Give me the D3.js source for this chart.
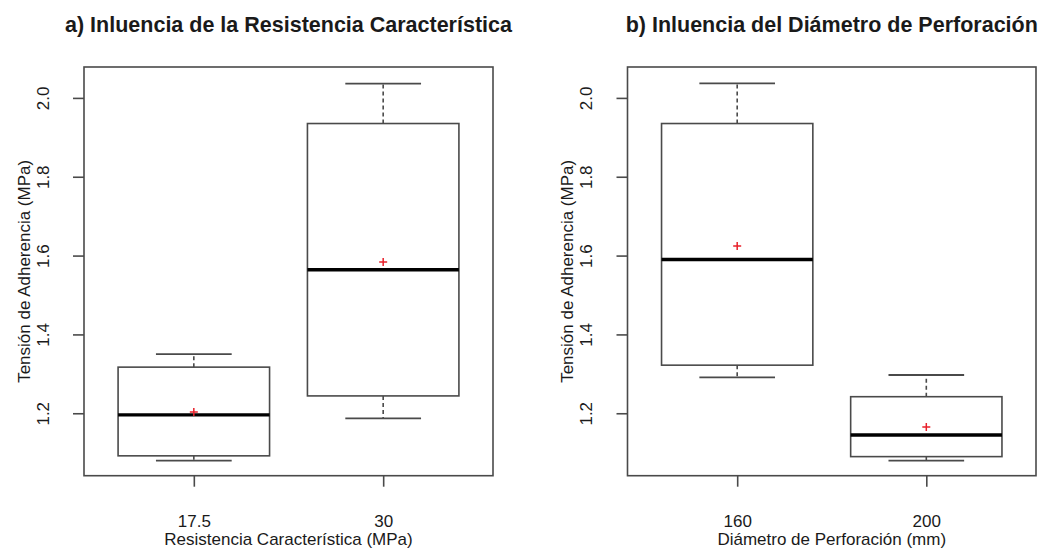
<!DOCTYPE html>
<html>
<head>
<meta charset="utf-8">
<script src="https://cdn.jsdelivr.net/npm/d3@7"></script>
<style>
  html, body { margin: 0; padding: 0; background: #fff; }
  svg { display: block; font-family: "Liberation Sans", Arial, sans-serif; }
</style>
</head>
<body>
<svg id="chart" width="1041" height="550"></svg>
<script>
// Bond stress box plots: five-number summaries and means per group
const yTitle = "Tensión de Adherencia (MPa)";
const yTicks = [1.2, 1.4, 1.6, 1.8, 2.0];

const titleA = "a) Inluencia de la Resistencia Característica";
const xTitleA = "Resistencia Característica (MPa)";
const groupsA = ["17.5", "30"];
const lowA  = [1.080, 1.187];
const q1A   = [1.092, 1.244];
const medA  = [1.196, 1.564];
const q3A   = [1.317, 1.935];
const highA = [1.350, 2.036];
const meanA = [1.203, 1.584];

const titleB = "b) Inluencia del Diámetro de Perforación";
const xTitleB = "Diámetro de Perforación (mm)";
const groupsB = ["160", "200"];
const lowB  = [1.291, 1.080];
const q1B   = [1.322, 1.090];
const medB  = [1.590, 1.145];
const q3B   = [1.935, 1.242];
const highB = [2.037, 1.297];
const meanB = [1.624, 1.165];

const svg = d3.select("#chart");
const lineCol = "#4a4a4a";
const textCol = "#1a1a1a";
const plotTop = 67, plotBottom = 475.7;

const y = d3.scaleLinear().domain([1.0416, 2.0784]).range([plotBottom, plotTop]);

function panel(left, right, title, xTitle, groups, low, q1, med, q3, high, mean) {
  const g = svg.append("g");
  const x = d3.scalePoint().domain(groups).range([left, right]).padding(0.58);
  const step = x.step();
  const boxW = step * 0.8, capW = step * 0.4;

  const rows = groups.map((k, i) => ({
    k, low: low[i], q1: q1[i], med: med[i], q3: q3[i], high: high[i], mean: mean[i]
  }));

  const b = g.selectAll("g.box").data(rows).join("g").attr("class", "box");

  // dashed whiskers
  b.append("line")
    .attr("x1", d => x(d.k)).attr("x2", d => x(d.k))
    .attr("y1", d => y(d.q3)).attr("y2", d => y(d.high))
    .attr("stroke", lineCol).attr("stroke-width", 1.6).attr("stroke-dasharray", "4,3");
  b.append("line")
    .attr("x1", d => x(d.k)).attr("x2", d => x(d.k))
    .attr("y1", d => y(d.q1)).attr("y2", d => y(d.low))
    .attr("stroke", lineCol).attr("stroke-width", 1.6).attr("stroke-dasharray", "4,3");
  // staples
  ["high", "low"].forEach(f => {
    b.append("line")
      .attr("x1", d => x(d.k) - capW / 2).attr("x2", d => x(d.k) + capW / 2)
      .attr("y1", d => y(d[f])).attr("y2", d => y(d[f]))
      .attr("stroke", lineCol).attr("stroke-width", 1.8);
  });
  // box
  b.append("rect")
    .attr("x", d => x(d.k) - boxW / 2).attr("width", boxW)
    .attr("y", d => y(d.q3)).attr("height", d => y(d.q1) - y(d.q3))
    .attr("fill", "none").attr("stroke", lineCol).attr("stroke-width", 1.6);
  // median
  b.append("line")
    .attr("x1", d => x(d.k) - boxW / 2).attr("x2", d => x(d.k) + boxW / 2)
    .attr("y1", d => y(d.med)).attr("y2", d => y(d.med))
    .attr("stroke", "#000").attr("stroke-width", 3.4);
  // mean marker
  b.append("path")
    .attr("d", d => {
      const cx = x(d.k), cy = y(d.mean), s = 4;
      return `M${cx - s},${cy}H${cx + s}M${cx},${cy - s}V${cy + s}`;
    })
    .attr("stroke", "#e8202a").attr("stroke-width", 1.5).attr("fill", "none");

  // frame
  g.append("rect")
    .attr("x", left).attr("y", plotTop)
    .attr("width", right - left).attr("height", plotBottom - plotTop)
    .attr("fill", "none").attr("stroke", lineCol).attr("stroke-width", 1.6);

  // y axis
  const ya = g.append("g").attr("transform", `translate(${left},0)`)
    .call(d3.axisLeft(y).tickValues(yTicks).tickFormat(d3.format(".1f")).tickSize(11).tickSizeOuter(0));
  ya.select(".domain").remove();
  ya.selectAll(".tick line").attr("stroke", lineCol).attr("stroke-width", 1.6);
  ya.selectAll(".tick text")
    .attr("x", null).attr("dy", null)
    .attr("transform", "translate(-35.5,0) rotate(-90)")
    .attr("text-anchor", "middle")
    .attr("fill", textCol)
    .style("font-size", "17px");

  // x axis
  const xa = g.append("g").attr("transform", `translate(0,${plotBottom})`)
    .call(d3.axisBottom(x).tickSize(11).tickSizeOuter(0));
  xa.select(".domain").remove();
  xa.selectAll(".tick line").attr("stroke", lineCol).attr("stroke-width", 1.6);
  xa.selectAll(".tick text")
    .attr("y", 51).attr("dy", null)
    .attr("fill", textCol)
    .style("font-size", "17px");

  // labels
  g.append("text")
    .attr("x", (left + right) / 2).attr("y", 545)
    .attr("text-anchor", "middle").attr("fill", textCol)
    .style("font-size", "17px").text(xTitle);
  g.append("text")
    .attr("transform", `translate(${left - 54.5},${(plotTop + plotBottom) / 2}) rotate(-90)`)
    .attr("text-anchor", "middle").attr("fill", textCol)
    .style("font-size", "17px").text(yTitle);
  g.append("text")
    .attr("x", (left + right) / 2).attr("y", 32)
    .attr("text-anchor", "middle").attr("fill", textCol)
    .style("font-size", "21.5px").style("font-weight", "bold").text(title);
}

panel(84, 493, titleA, xTitleA, groupsA, lowA, q1A, medA, q3A, highA, meanA);
panel(627.5, 1036, titleB, xTitleB, groupsB, lowB, q1B, medB, q3B, highB, meanB);
</script>
</body>
</html>
